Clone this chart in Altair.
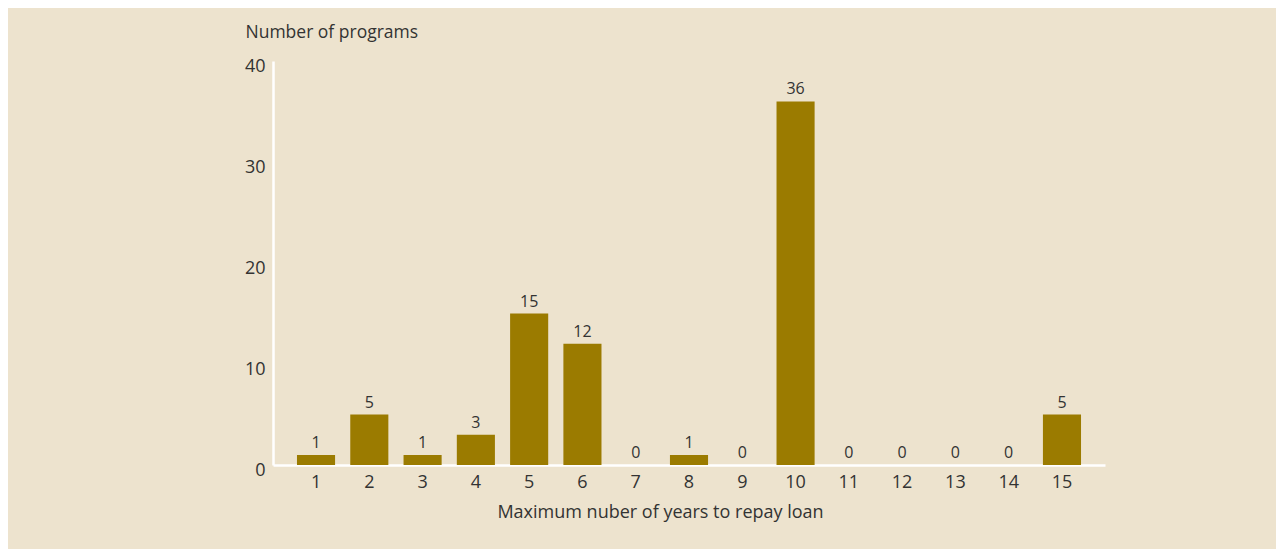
import altair as alt
import pandas as pd

years = [str(i) for i in range(1, 16)]
programs = [1, 5, 1, 3, 15, 12, 0, 1, 0, 36, 0, 0, 0, 0, 5]

df = pd.DataFrame({"year": years, "programs": programs})

FONT = "Open Sans"
TXT = "#333333"
BAR = "#9B7B00"
BG = "#EDE3CE"

x = alt.X(
    "year:N",
    sort=years,
    scale=alt.Scale(paddingInner=0.285, paddingOuter=0.45),
    axis=alt.Axis(
        title="Maximum nuber of years to repay loan",
        labelAngle=0,
        labelFontSize=18,
        labelColor=TXT,
        labelFont=FONT,
        labelPadding=8,
        ticks=False,
        grid=False,
        domainColor="white",
        domainWidth=2.5,
        titleFont=FONT,
        titleFontSize=18,
        titleFontWeight="normal",
        titleColor=TXT,
        titleX=387,
        titleY=47,
        titleAlign="center",
        titleBaseline="middle",
    ),
)

y = alt.Y(
    "programs:Q",
    scale=alt.Scale(domain=[0, 40], nice=False),
    axis=alt.Axis(
        values=[0, 10, 20, 30, 40],
        title="Number of programs",
        titleAngle=0,
        titleAlign="left",
        titleBaseline="middle",
        titleX=-28,
        titleY=-29,
        titleFont=FONT,
        titleFontSize=17.5,
        titleFontWeight="normal",
        titleColor=TXT,
        labelFontSize=18,
        labelColor=TXT,
        labelFont=FONT,
        labelPadding=8,
        labelBaseline="middle",
        labelOffset=5,
        ticks=False,
        grid=False,
        domainColor="white",
        domainWidth=2.5,
    ),
)

bars = alt.Chart(df).mark_bar(color=BAR).encode(x=x, y=y)

labels = alt.Chart(df).mark_text(
    baseline="bottom", dy=-4, fontSize=16, font=FONT, color=TXT
).encode(x=alt.X("year:N", sort=years), y="programs:Q", text="programs:Q")

chart = (
    alt.layer(bars, labels)
    .properties(
        width=832,
        height=404,
        background=BG,
        padding={"left": 265, "top": 53, "right": 171, "bottom": 84},
        autosize=alt.AutoSizeParams(type="none"),
    )
    .configure_view(stroke=None)
)

chart.save("out.html", embed_options={"renderer": "svg", "actions": False})
